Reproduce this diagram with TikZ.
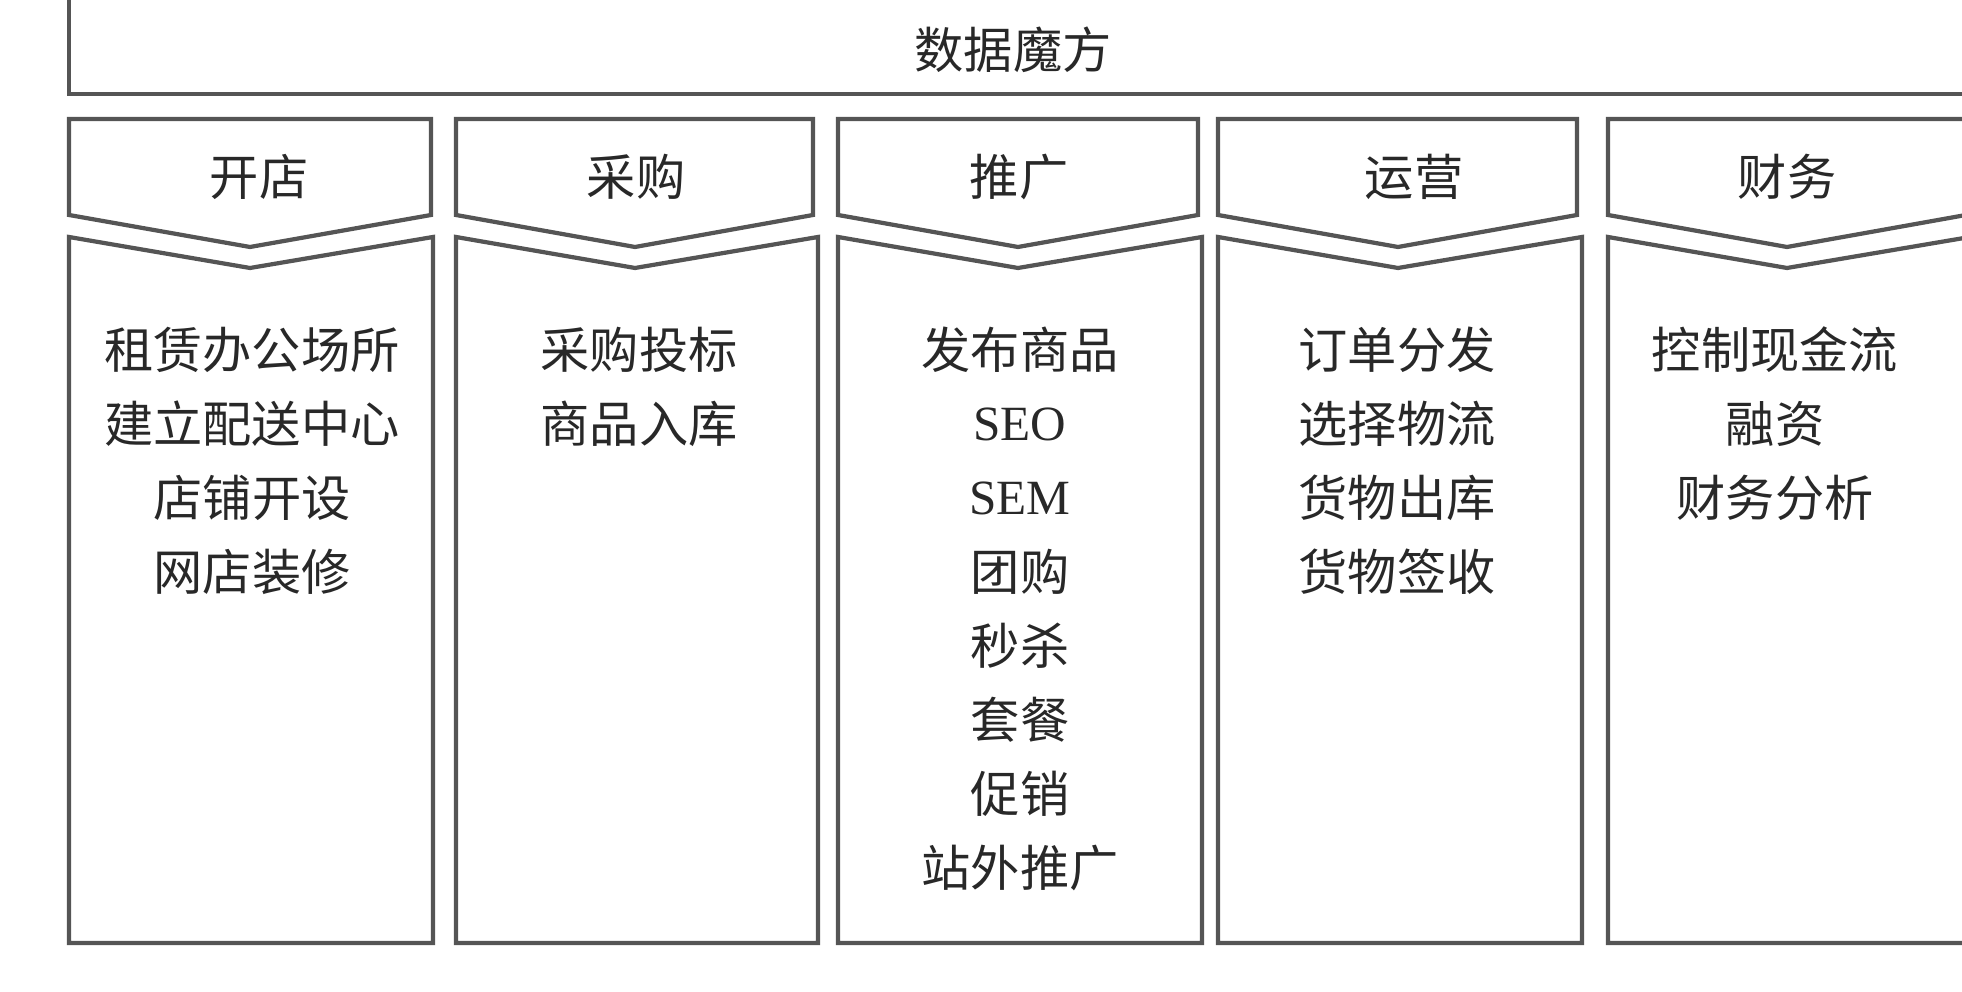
\documentclass[tikz,border=0pt]{standalone}
\usepackage{fontspec}
\setmainfont{Liberation Serif}
\newfontfamily\cjk{Noto Sans CJK SC}
\definecolor{ln}{RGB}{85,85,85}
\definecolor{tx}{RGB}{40,40,40}
\begin{document}
\begin{tikzpicture}[x=0.01cm,y=-0.01cm,
  frame/.style={draw=ln,line width=1.2pt,line join=miter},
  lbl/.style={text=tx,inner sep=0pt,font=\cjk\fontsize{14}{17}\selectfont}]
\useasboundingbox (0,0) rectangle (1962,992);
\clip (0,0) rectangle (1962,992);
\draw[frame] (69,-20) rectangle (1990,94);
\node[lbl] (title) at (1013,50) {数据魔方};
\foreach \n/\L/\R/\Rb/\C/\hx/\h in {1/69/431/433/250/259/开店, 2/456/813/818/635/636/采购, 3/838/1198/1202/1018/1019/推广, 4/1218/1577/1582/1398/1414/运营, 5/1608/1966/1970/1787/1787/财务}{
  \draw[frame] (\L,119) -- (\R,119) -- (\R,215) -- (\C,247) -- (\L,215) -- cycle;
  \draw[frame] (\L,237) -- (\C,268) -- (\Rb,237) -- (\Rb,943) -- (\L,943) -- cycle;
  \node[lbl] (head\n) at (\hx,177) {\h};
}
\foreach \t [count=\i] in {租赁办公场所, 建立配送中心, 店铺开设, 网店装修}
  \node[lbl] (a\i) at (252,276+74*\i) {\t};
\foreach \t [count=\i] in {采购投标, 商品入库}
  \node[lbl] (b\i) at (639,276+74*\i) {\t};
\foreach \t [count=\i] in {发布商品, {\rmfamily SEO}, {\rmfamily SEM}, 团购, 秒杀, 套餐, 促销, 站外推广}
  \node[lbl] (c\i) at (1020,276+74*\i) {\t};
\foreach \t [count=\i] in {订单分发, 选择物流, 货物出库, 货物签收}
  \node[lbl] (d\i) at (1397,276+74*\i) {\t};
\foreach \t [count=\i] in {控制现金流, 融资, 财务分析}
  \node[lbl] (e\i) at (1775,276+74*\i) {\t};
\end{tikzpicture}
\end{document}
